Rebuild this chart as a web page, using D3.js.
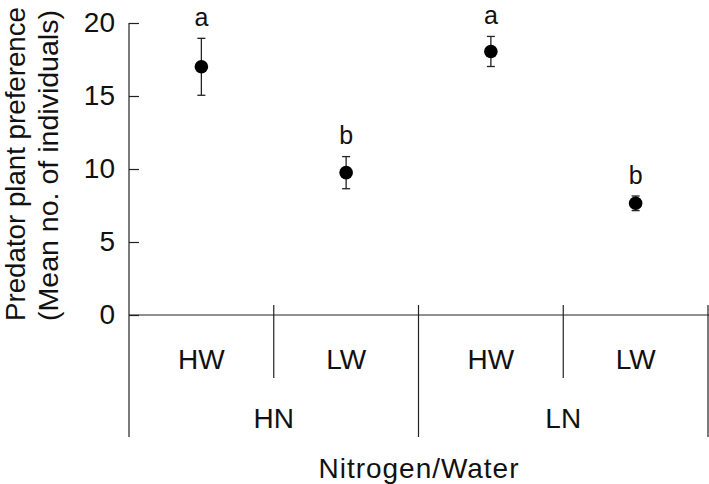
<!DOCTYPE html>
<html>
<head>
<meta charset="utf-8">
<script src="https://cdn.jsdelivr.net/npm/d3@7"></script>
<style>
  html, body { margin: 0; padding: 0; background: #fff; }
  svg { display: block; }
  text { font-family: "Liberation Sans", Arial, sans-serif; fill: #111; }
</style>
</head>
<body>
<svg id="chart" width="709" height="484"></svg>
<script>
// ---- data ----
const waterLevels = ["HW", "LW", "HW", "LW"];
const nitrogenGroups = ["HN", "LN"];
const groupOf = ["HN", "HN", "LN", "LN"];
const means = [17.0, 9.75, 18.05, 7.65];
const errors = [1.95, 1.1, 1.03, 0.5];
const letters = ["a", "b", "a", "b"];
const yTicks = [0, 5, 10, 15, 20];
const yLabelLines = ["Predator plant preference", "(Mean no. of individuals)"];
const xTitle = "Nitrogen/Water";

// ---- layout ----
const svg = d3.select("#chart");
const mLeft = 129, mRight = 708, mTop = 23, zeroY = 315;
const axisBottom = 437;
const stroke = "#222";

const ids = waterLevels.map((d, i) => i);
const x = d3.scaleBand().domain(ids).range([mLeft, mRight]);
const xg = d3.scaleBand().domain(nitrogenGroups).range([mLeft, mRight]);
const y = d3.scaleLinear().domain([0, 20]).range([zeroY, mTop]);

// y axis with inward ticks
const yAxis = d3.axisLeft(y).tickValues(yTicks).tickSize(-10).tickPadding(14).tickSizeOuter(0);
const ga = svg.append("g").attr("transform", `translate(${mLeft},0)`).call(yAxis);
ga.select(".domain").remove();
ga.selectAll(".tick line").attr("stroke", stroke).attr("stroke-width", 1.2);
ga.selectAll(".tick text").attr("font-size", 28).attr("fill", "#111")
  .attr("font-family", '"Liberation Sans", Arial, sans-serif');

// vertical y-axis line (extends under category rows)
svg.append("line").attr("x1", mLeft).attr("x2", mLeft).attr("y1", mTop).attr("y2", axisBottom)
  .attr("stroke", stroke).attr("stroke-width", 1.2);
// zero line
svg.append("line").attr("x1", mLeft).attr("x2", mRight + 1).attr("y1", y(0)).attr("y2", y(0))
  .attr("stroke", stroke).attr("stroke-width", 1.2);

// short dividers between water levels within a group
nitrogenGroups.forEach(g => {
  const xm = xg(g) + xg.bandwidth() / 2;
  svg.append("line").attr("x1", xm).attr("x2", xm).attr("y1", 305).attr("y2", 378)
    .attr("stroke", stroke).attr("stroke-width", 1.2);
});
// long dividers between groups
nitrogenGroups.forEach(g => {
  const xe = xg(g) + xg.bandwidth();
  svg.append("line").attr("x1", xe).attr("x2", xe).attr("y1", 305).attr("y2", axisBottom)
    .attr("stroke", stroke).attr("stroke-width", 1.2);
});

// water labels
svg.selectAll(".wl").data(ids).enter().append("text")
  .attr("x", d => x(d) + x.bandwidth() / 2).attr("y", 369)
  .attr("text-anchor", "middle").attr("font-size", 28)
  .text(d => waterLevels[d]);
// nitrogen labels
svg.selectAll(".nl").data(nitrogenGroups).enter().append("text")
  .attr("x", d => xg(d) + xg.bandwidth() / 2).attr("y", 428)
  .attr("text-anchor", "middle").attr("font-size", 28)
  .text(d => d);
// x title
svg.append("text").attr("x", (mLeft + mRight) / 2).attr("y", 478)
  .attr("text-anchor", "middle").attr("font-size", 28)
  .attr("textLength", 200).attr("lengthAdjust", "spacing").text(xTitle);

// y label (two lines)
const ylx = [25, 58];
const ylLen = [314, 311];
yLabelLines.forEach((t, i) => {
  svg.append("text")
    .attr("transform", `translate(${ylx[i]},321) rotate(-90)`)
    .attr("text-anchor", "start").attr("font-size", 27)
    .attr("textLength", ylLen[i]).attr("lengthAdjust", "spacingAndGlyphs").text(t);
});

// error bars
const r = 6.8, cap = 4;
const pts = svg.append("g");
ids.forEach(i => {
  const cx = x(i) + x.bandwidth() / 2;
  const yh = y(means[i] + errors[i]), yl = y(means[i] - errors[i]);
  pts.append("line").attr("x1", cx).attr("x2", cx).attr("y1", yh).attr("y2", yl)
    .attr("stroke", stroke).attr("stroke-width", 1.3);
  [yh, yl].forEach(yy => pts.append("line").attr("x1", cx - cap).attr("x2", cx + cap)
    .attr("y1", yy).attr("y2", yy).attr("stroke", stroke).attr("stroke-width", 1.3));
  pts.append("circle").attr("cx", cx).attr("cy", y(means[i])).attr("r", r).attr("fill", "#000");
  const topY = Math.min(yh, y(means[i]) - r);
  pts.append("text").attr("x", cx).attr("y", topY - 12.5)
    .attr("text-anchor", "middle").attr("font-size", 25).text(letters[i]);
});
</script>
</body>
</html>
